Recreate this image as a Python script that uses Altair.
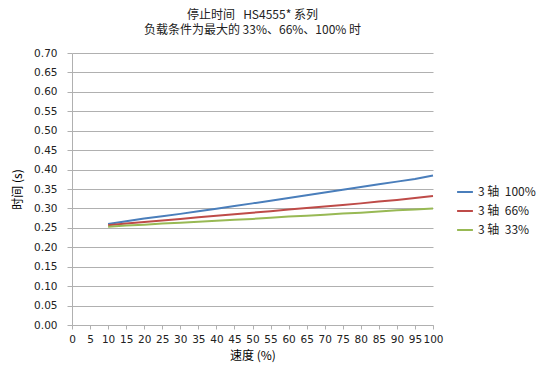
import altair as alt
import pandas as pd

speed = [10, 15, 20, 25, 30, 35, 40, 45, 50, 55, 60, 65, 70, 75, 80, 85, 90, 95, 100]
s100 = [0.260, 0.267, 0.274, 0.280, 0.286, 0.293, 0.299, 0.306, 0.313, 0.320, 0.327, 0.334, 0.341, 0.348, 0.355, 0.362, 0.369, 0.376, 0.385]
s66 = [0.257, 0.261, 0.265, 0.269, 0.273, 0.277, 0.281, 0.285, 0.289, 0.293, 0.297, 0.301, 0.305, 0.309, 0.313, 0.318, 0.322, 0.327, 0.332]
s33 = [0.253, 0.256, 0.258, 0.261, 0.263, 0.266, 0.268, 0.271, 0.273, 0.276, 0.279, 0.281, 0.284, 0.287, 0.289, 0.292, 0.295, 0.297, 0.300]
series = ["3 轴\u00a0\u00a0100%", "3 轴\u00a0\u00a066%", "3 轴\u00a0\u00a033%"]
colors = ["#4a7ebb", "#be4b48", "#98b954"]
x_ticks = list(range(0, 101, 5))
y_ticks = [round(i * 0.05, 2) for i in range(15)]

rows = []
for name, vals in zip(series, [s100, s66, s33]):
    for sp, v in zip(speed, vals):
        rows.append({"speed": sp, "time": v, "series": name})
df = pd.DataFrame(rows)

cjk = "Noto Sans CJK SC"
num = "DejaVu Sans"

chart = alt.Chart(df).mark_line(strokeWidth=2).encode(
    x=alt.X("speed:Q",
            scale=alt.Scale(domain=[0, 100], nice=False, zero=True),
            axis=alt.Axis(values=x_ticks, title="速度 (%)", grid=False,
                          labelFlush=False, labelOverlap=False,
                          domainColor="#b0b0b0", tickColor="#b0b0b0", tickSize=4,
                          labelPadding=5, labelFontSize=10.5, labelColor="#222222",
                          titleFontSize=12, titleFontWeight="normal", titlePadding=6,
                          labelFont=num, titleFont=cjk)),
    y=alt.Y("time:Q",
            scale=alt.Scale(domain=[0, 0.7], nice=False),
            axis=alt.Axis(values=y_ticks, format=".2f", title="时间 (s)",
                          gridColor="#b0b0b0", domainColor="#b0b0b0", tickColor="#b0b0b0",
                          tickSize=5, labelPadding=10, labelFontSize=10.5, labelColor="#222222",
                          titleFontSize=12, titleFontWeight="normal", titlePadding=9,
                          labelFont=num, titleFont=cjk, labelOverlap=False)),
    color=alt.Color("series:N",
                    scale=alt.Scale(domain=series, range=colors),
                    sort=series,
                    legend=alt.Legend(title=None, orient="none", legendX=384, legendY=130,
                                      symbolType="stroke", symbolStrokeWidth=2, symbolSize=250,
                                      labelFontSize=12, labelFont=cjk, labelColor="#222222",
                                      rowPadding=4)),
).properties(
    width=361, height=272,
    title=alt.TitleParams(text=["停止时间\u00a0\u00a0\u00a0HS4555* 系列",
                                "负载条件为最大的 33%、66%、100% 时"],
                          fontSize=12, fontWeight="normal", font=cjk, color="#222222",
                          anchor="middle", offset=11, lineHeight=15),
    autosize=alt.AutoSizeParams(type="none"),
    padding={"left": 64, "top": 45, "right": 109, "bottom": 39},
).configure_view(stroke=None)

chart.save("out.html", embed_options={"renderer": "svg", "actions": False})
